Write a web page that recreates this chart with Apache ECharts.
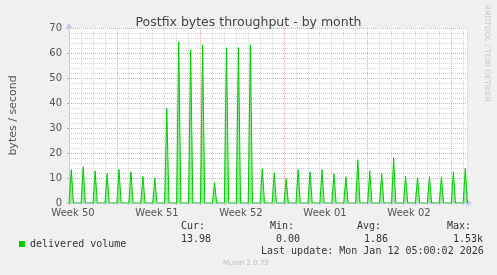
<!DOCTYPE html>
<html>
<head>
<meta charset="utf-8">
<script src="https://cdn.jsdelivr.net/npm/echarts@6/dist/echarts.min.js"></script>
<style>
html,body{margin:0;padding:0;background:#f0f0f0;}
#chart{width:497px;height:275px;}
</style>
</head>
<body>
<div id="chart"></div>
<script>
// Daily delivered volume (bytes / second), one reading per day starting Thu Dec 11 2025
const spikeValues = [13.3,14.5,12.9,11.8,13.4,12.5,10.7,9.9,37.8,64.5,61.3,63.3,8.1,62.1,62.2,63.3,13.7,12.1,9.7,13.3,12.5,13.3,11.7,10.5,17.3,12.9,11.8,18.1,10.7,10.3,10.5,10.5,12.5,14.0];
// time of day of each reading, as fraction of a day
const readingTime = 0.19;
// week starts (Mondays), in days since Dec 11 00:00
const weekStarts = [4, 11, 18, 25, 32];
const weekLabels = ['Week 50', 'Week 51', 'Week 52', 'Week 01', 'Week 02'];
const yTicks = [0, 10, 20, 30, 40, 50, 60, 70];
const seriesName = 'delivered volume';
const statHeads = ['Cur:', 'Min:', 'Avg:', 'Max:'];
const statValues = ['13.98', '0.00', '1.86', '1.53k'];
const lastUpdate = 'Last update: Mon Jan 12 05:00:02 2026';
const spanDays = 400 / 12;

const data = [[0, 0]];
spikeValues.forEach((v, i) => {
  const t = i + readingTime;
  data.push([t - 0.18, 0]);
  data.push([t, v]);
  data.push([t + 0.18, 0]);
});
data.push([spanDays, 0]);

const minorGrey = '#d4d4d4';
const majorRed = '#eea0a0';
const dayLineColors = [];
for (let d = 0; d <= Math.floor(spanDays); d++) {
  dayLineColors.push(weekStarts.indexOf(d) >= 0 ? 'rgba(0,0,0,0)' : minorGrey);
}

const chart = echarts.init(document.getElementById('chart'), null, {renderer: 'canvas'});
const gridTop = 28, gridH = 175;
const mono = 'DejaVu Sans Mono';
const txt = '#333';
const statX = [181, 270, 357, 447];
const valX = [181, 276, 364, 453];
const graphics = [];
statHeads.forEach((s, i) => graphics.push({type: 'text', left: statX[i], top: 221, style: {text: s, font: '10px "DejaVu Sans Mono"', fill: txt}}));
statValues.forEach((s, i) => graphics.push({type: 'text', left: valX[i], top: 234, style: {text: s, font: '10px "DejaVu Sans Mono"', fill: txt}}));
graphics.push({type: 'text', left: 261, top: 246, style: {text: lastUpdate, font: '10px "DejaVu Sans Mono"', fill: txt}});
graphics.push({type: 'text', left: 223, top: 260, style: {text: 'Munin 2.0.73', font: '7px "DejaVu Sans"', fill: '#bbb'}});
graphics.push({type: 'text', x: 491, y: 5, rotation: -Math.PI / 2, style: {text: 'RRDTOOL / TOBI OETIKER', font: '7.5px "DejaVu Sans"', fill: '#c8c8c8'}});

chart.setOption({
  backgroundColor: '#f0f0f0',
  animation: false,
  title: {
    text: 'Postfix bytes throughput - by month',
    left: 'center', top: 11,
    textStyle: {fontFamily: 'DejaVu Sans', fontSize: 12.5, fontWeight: 'normal', color: '#444'}
  },
  legend: {
    left: 14, top: 234,
    icon: 'rect', itemWidth: 6, itemHeight: 6, itemGap: 10,
    textStyle: {fontFamily: mono, fontSize: 10, color: txt, padding: [0, 0, 0, 0]},
    data: [seriesName]
  },
  graphic: graphics,
  grid: [
    {left: 67, top: gridTop, width: 400, height: gridH, show: true, backgroundColor: '#ffffff', borderWidth: 0},
    {left: 31, top: gridTop, width: 420, height: gridH, show: false}
  ],
  xAxis: [
    {
      type: 'value', gridIndex: 0, min: 0, max: spanDays, interval: 1,
      axisLine: {show: true, onZero: false, lineStyle: {color: '#c8c8f0'}, symbol: ['none', 'arrow'], symbolSize: [6, 6], symbolOffset: [0, 5]},
      axisTick: {show: true, length: 2, lineStyle: {color: '#c0c0c0'}},
      axisLabel: {show: false},
      splitLine: {show: true, lineStyle: {color: dayLineColors, type: [1, 1], width: 1}}
    },
    {
      type: 'category', gridIndex: 1, data: weekLabels, boundaryGap: true,
      axisLine: {show: false}, axisTick: {show: false},
      axisLabel: {show: true, margin: 5, fontFamily: 'DejaVu Sans', fontSize: 10, color: '#555'},
      splitLine: {show: false}
    }
  ],
  yAxis: [
    {
      type: 'value', gridIndex: 0, min: yTicks[0], max: yTicks[yTicks.length - 1], interval: 10,
      name: 'bytes / second', nameLocation: 'middle', nameGap: 50,
      nameTextStyle: {fontFamily: 'DejaVu Sans', fontSize: 11, color: '#555'},
      axisLine: {show: true, lineStyle: {color: '#c8c8f0'}, symbol: ['none', 'arrow'], symbolSize: [6, 6], symbolOffset: [0, 5]},
      axisTick: {show: true, length: 2, inside: false, lineStyle: {color: '#e0a0a0'}},
      axisLabel: {margin: 7, fontFamily: 'DejaVu Sans', fontSize: 10, color: '#555'},
      splitLine: {show: true, lineStyle: {color: majorRed, type: [1, 1], width: 1}},
      minorTick: {show: false, splitNumber: 5},
      minorSplitLine: {show: true, lineStyle: {color: minorGrey, type: [1, 1], width: 1}}
    },
    {type: 'value', gridIndex: 1, show: false, min: 0, max: 70}
  ],
  series: [{
    name: seriesName,
    type: 'line',
    xAxisIndex: 0, yAxisIndex: 0,
    data: data,
    showSymbol: false,
    symbol: 'none',
    color: '#00cc00',
    lineStyle: {color: '#00cc00', width: 1},
    areaStyle: {color: 'rgba(0,204,0,0.55)'},
    z: 3,
    markLine: {
      silent: true, symbol: 'none', label: {show: false}, animation: false, z: 1,
      lineStyle: {color: majorRed, type: [1, 1], width: 1},
      data: weekStarts.map(d => ({xAxis: d}))
    }
  }]
});
</script>
</body>
</html>
